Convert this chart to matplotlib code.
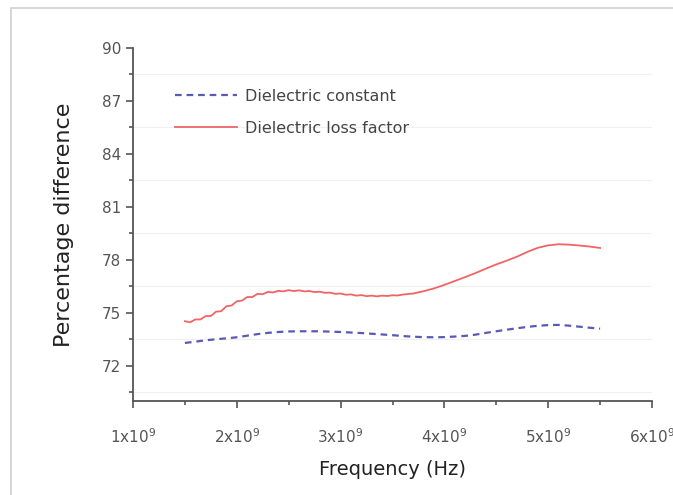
import matplotlib
matplotlib.use("Agg")
import matplotlib.pyplot as plt
from matplotlib.patches import Rectangle
from matplotlib.ticker import FixedLocator

plt.rcParams['mathtext.default'] = 'regular'

# frequency in units of 1e9 Hz
freq_const = [1.5, 1.6, 1.7, 1.8, 1.9, 2.0, 2.1, 2.2, 2.3, 2.4, 2.5, 2.6, 2.7, 2.8,
              2.9, 3.0, 3.1, 3.2, 3.3, 3.4, 3.5, 3.6, 3.7, 3.8, 3.9, 4.0, 4.1, 4.2,
              4.3, 4.4, 4.5, 4.6, 4.7, 4.8, 4.9, 5.0, 5.1, 5.2, 5.3, 5.4, 5.5]
diel_const = [73.29, 73.36, 73.44, 73.50, 73.55, 73.61, 73.70, 73.79, 73.86, 73.91,
              73.94, 73.95, 73.95, 73.95, 73.93, 73.91, 73.88, 73.85, 73.81, 73.77,
              73.73, 73.68, 73.64, 73.62, 73.61, 73.62, 73.65, 73.69, 73.76, 73.86,
              73.95, 74.04, 74.12, 74.20, 74.26, 74.30, 74.31, 74.27, 74.21, 74.15,
              74.10]

freq_loss = [1.50, 1.55, 1.60, 1.65, 1.70, 1.75, 1.80, 1.85, 1.90, 1.95, 2.00, 2.05,
             2.10, 2.15, 2.20, 2.25, 2.30, 2.35, 2.40, 2.45, 2.50, 2.55, 2.60, 2.65,
             2.70, 2.75, 2.80, 2.85, 2.90, 2.95, 3.00, 3.05, 3.10, 3.15, 3.20, 3.25,
             3.30, 3.35, 3.40, 3.45, 3.50, 3.55, 3.60, 3.7, 3.8, 3.9, 4.0, 4.1, 4.2,
             4.3, 4.4, 4.5, 4.6, 4.7, 4.8, 4.9, 5.0, 5.1, 5.2, 5.3, 5.4, 5.5]
loss_factor = [74.52, 74.46, 74.62, 74.62, 74.81, 74.82, 75.06, 75.09, 75.37, 75.41,
               75.65, 75.69, 75.89, 75.89, 76.07, 76.05, 76.18, 76.15, 76.24, 76.21,
               76.28, 76.23, 76.27, 76.21, 76.23, 76.17, 76.19, 76.13, 76.14, 76.07,
               76.09, 76.02, 76.04, 75.97, 76.00, 75.94, 75.97, 75.93, 75.97, 75.95,
               75.99, 75.98, 76.03, 76.09, 76.22, 76.38, 76.58, 76.80, 77.02, 77.25,
               77.50, 77.74, 77.95, 78.18, 78.45, 78.68, 78.82, 78.88, 78.86, 78.81,
               78.75, 78.67]

xticks = [1, 2, 3, 4, 5, 6]
xlabels = [r'1x10$^{9}$', r'2x10$^{9}$', r'3x10$^{9}$', r'4x10$^{9}$', r'5x10$^{9}$', r'6x10$^{9}$']
yticks = [72, 75, 78, 81, 84, 87, 90]

fig = plt.figure(figsize=(6.73, 4.95), dpi=100)
fig.patches.append(Rectangle((11/673, -0.1), 1.2, 1 - 8/495 + 0.1, transform=fig.transFigure,
                             fill=False, edgecolor='#cfcfcf', lw=1.2))
ax = fig.add_axes([133/673, 94/495, 519/673, 353/495])

ax.plot([f * 1e9 for f in freq_const], diel_const, color='#5a5ab4', lw=1.6, dashes=(3, 2.2),
        label='Dielectric constant')
ax.plot([f * 1e9 for f in freq_loss], loss_factor, color='#f06464', lw=1.3,
        label='Dielectric loss factor')

ax.set_xlim(1e9, 6e9)
ax.set_ylim(70, 90)
ax.set_xticks([t * 1e9 for t in xticks])
ax.set_xticklabels(xlabels)
ax.xaxis.set_minor_locator(FixedLocator([t * 1e9 + 0.5e9 for t in xticks[:-1]]))
ax.set_yticks(yticks)
ax.yaxis.set_minor_locator(FixedLocator([t - 1.5 for t in yticks]))
ax.grid(which='minor', axis='y', color='#f0f0f0', lw=0.8)

for s in ['top', 'right']:
    ax.spines[s].set_visible(False)
for s in ['left', 'bottom']:
    ax.spines[s].set_color('#555555')
    ax.spines[s].set_linewidth(1.3)
ax.tick_params(which='major', length=5, width=1.2, color='#555555', labelcolor='#555555', labelsize=11)
ax.tick_params(which='minor', length=3, width=1.2, color='#555555')
ax.tick_params(axis='x', pad=14)

ax.set_xlabel('Frequency (Hz)', fontsize=14, color='#222222', labelpad=10)
ax.set_ylabel('Percentage difference', fontsize=16, color='#222222', labelpad=20)

ax.legend(loc='upper left', bbox_to_anchor=(0.081, 0.884), frameon=False, fontsize=11.5,
          handlelength=3.9, handletextpad=0.45, labelspacing=1.05, borderpad=0,
          borderaxespad=0, labelcolor='#444444')

fig.savefig('out.png', dpi=100)
